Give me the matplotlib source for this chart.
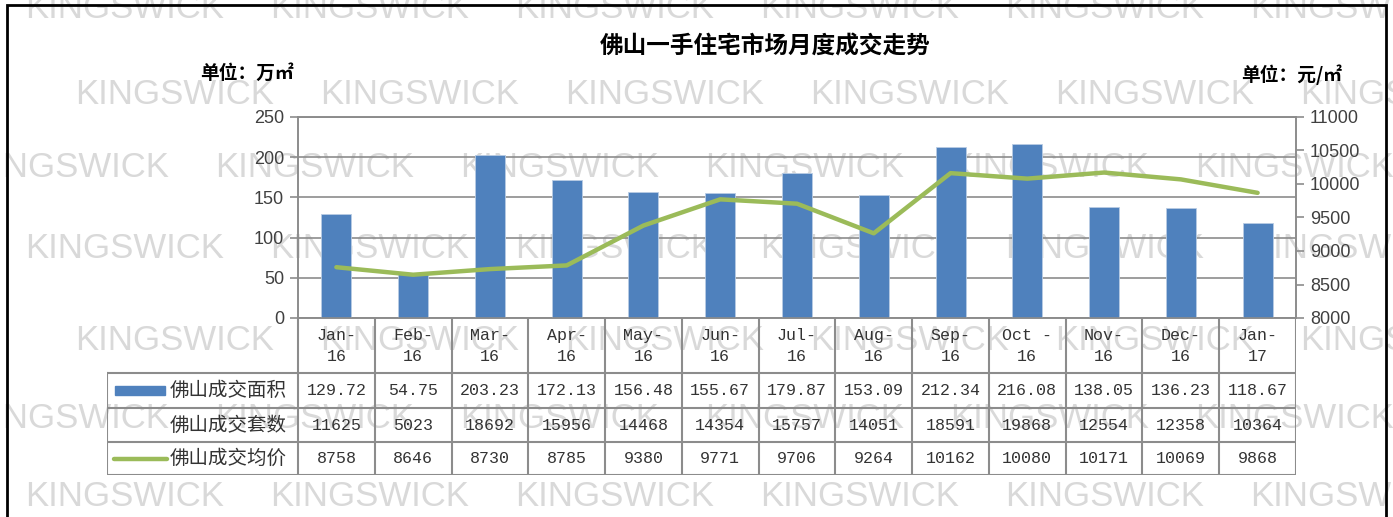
import matplotlib.pyplot as plt
from matplotlib.patches import Rectangle
import numpy as np

plt.rcParams['font.family'] = ['Noto Sans CJK SC', 'DejaVu Sans']

# 数据
months = ['Jan-\n16', 'Feb-\n16', 'Mar-\n16', 'Apr-\n16', 'May-\n16', 'Jun-\n16', 'Jul-\n16',
          'Aug-\n16', 'Sep-\n16', 'Oct -\n16', 'Nov-\n16', 'Dec-\n16', 'Jan-\n17']
area = [129.72, 54.75, 203.23, 172.13, 156.48, 155.67, 179.87, 153.09, 212.34, 216.08, 138.05, 136.23, 118.67]
units = [11625, 5023, 18692, 15956, 14468, 14354, 15757, 14051, 18591, 19868, 12554, 12358, 10364]
price = [8758, 8646, 8730, 8785, 9380, 9771, 9706, 9264, 10162, 10080, 10171, 10069, 9868]
row_names = ['佛山成交面积', '佛山成交套数', '佛山成交均价']

BLUE = '#4F81BD'
GREEN = '#9BBB59'
GRID = '#8c8c8c'
TXT = '#404040'

W, H = 1393, 517
fig = plt.figure(figsize=(W / 100, H / 100), dpi=100)

# 水印
wm_rows = [(8, 25), (95, 75), (168, -30), (248, 25), (340, 75), (418, -30), (497, 25)]
for y, x0 in wm_rows:
    for k in range(7):
        fig.text((x0 + k * 245) / W, 1 - y / H, 'KINGSWICK', ha='left', va='center',
                 fontsize=25, color='#d9d9d9', family='Liberation Sans', zorder=-1)

# 外框
fig.add_artist(Rectangle((7 / W, -0.02), (1386 - 7) / W, 1 - 5 / H + 0.02,
                         transform=fig.transFigure, fill=False, edgecolor='black', linewidth=2))

# === 主图 ===
ax = fig.add_axes([298 / W, 1 - 318 / H, (1296 - 298) / W, (318 - 117) / H])
ax.set_facecolor('none')
x = np.arange(len(months))
ax.bar(x, area, width=0.39, color=BLUE, edgecolor='#b8cce4', linewidth=0.6, zorder=3)
ax.set_xlim(-0.5, 12.5)
ax.set_ylim(0, 250)
ax.set_yticks(np.arange(0, 251, 50))
ax.grid(axis='y', color=GRID, linewidth=1.2, zorder=0)
ax.tick_params(axis='x', bottom=False, labelbottom=False)
ax.tick_params(axis='y', length=6, width=1.2, color=GRID, labelsize=13, labelcolor=TXT, pad=4)
for lab in ax.get_yticklabels():
    lab.set_family('Liberation Sans')
for s in ax.spines.values():
    s.set_color(GRID)
    s.set_linewidth(1.2)

ax2 = ax.twinx()
ax2.plot(x, price, color=GREEN, linewidth=3.2, solid_capstyle='round', zorder=4)
ax2.set_ylim(8000, 11000)
ax2.set_yticks(np.arange(8000, 11001, 500))
ax2.tick_params(axis='y', length=6, width=1.2, color=GRID, labelsize=13, labelcolor=TXT, pad=4)
for lab in ax2.get_yticklabels():
    lab.set_family('Liberation Sans')
for s in ax2.spines.values():
    s.set_color(GRID)
    s.set_linewidth(1.2)

# 标题与单位
fig.text(765 / W, 1 - 47 / H, '佛山一手住宅市场月度成交走势', ha='center', va='center',
         fontsize=17, fontweight='bold', color='black')
fig.text(200 / W, 1 - 73 / H, '单位：万㎡', ha='left', va='center', fontsize=13.5,
         fontweight='bold', color='black')
fig.text(1342 / W, 1 - 75 / H, '单位：元/㎡', ha='right', va='center', fontsize=13.5,
         fontweight='bold', color='black')

# === 数据表 ===
left_px, top_px, bot_px = 107, 318, 475
x_left = -0.5 - (298 - left_px) / ((1296 - 298) / 13)
tab = fig.add_axes([left_px / W, 1 - bot_px / H, (1296 - left_px) / W, (bot_px - top_px) / H])
tab.set_xlim(x_left, 12.5)
tab.set_ylim(bot_px, top_px)
tab.axis('off')

row_edges = [373, 408, 442, 475]
lc = dict(color=GRID, linewidth=1.5, solid_capstyle='projecting')
for ye in row_edges:
    tab.plot([x_left, 12.5], [ye, ye], **lc)
tab.plot([x_left, x_left], [373, 475], **lc)
for i in range(14):
    tab.plot([i - 0.5, i - 0.5], [318, 475], **lc)

mono = 'Liberation Mono'
for i, m in enumerate(months):
    tab.text(i, 346, m, ha='center', va='center', fontsize=12, family=mono,
             color='#333333', linespacing=1.55)
row_vals = [['%.2f' % v for v in area], [str(v) for v in units], [str(v) for v in price]]
row_y = [390.5, 425, 458.5]
for vals, yy in zip(row_vals, row_y):
    for i, v in enumerate(vals):
        tab.text(i, yy, v, ha='center', va='center', fontsize=12, family=mono, color='#333333')

lab_x = x_left + (170 - left_px) / ((1296 - 298) / 13)
for name, yy in zip(row_names, row_y):
    tab.text(lab_x, yy, name, ha='left', va='center', fontsize=14, color='#333333')

# 图例标记
px = (1296 - 298) / 13
tab.add_patch(Rectangle((x_left + 8 / px, row_y[0] - 4.5), 50 / px, 9, color=BLUE))
tab.plot([x_left + 7 / px, x_left + 60 / px], [row_y[2], row_y[2]], color=GREEN,
         linewidth=3.2, solid_capstyle='round')

plt.savefig('out.png', dpi=100)
